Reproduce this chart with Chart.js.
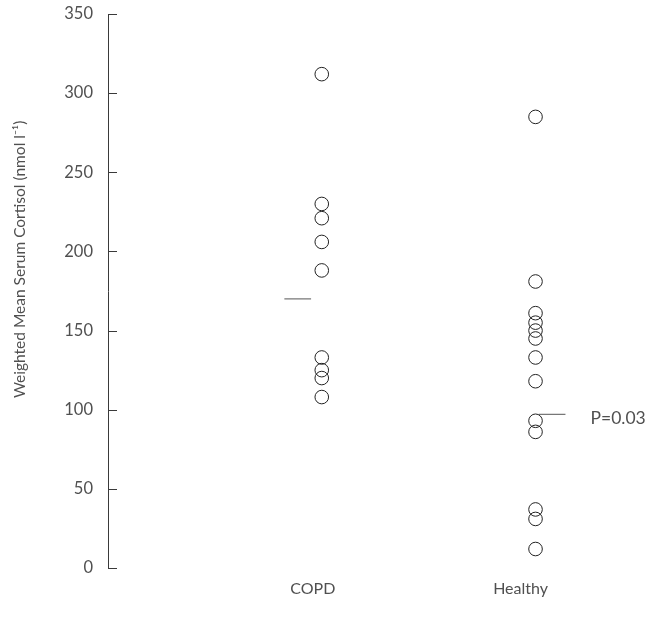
<!DOCTYPE html>
<html>
<head>
<meta charset="utf-8">
<script src="https://cdn.jsdelivr.net/npm/chart.js@4/dist/chart.umd.min.js"></script>
<style>
  html, body { margin: 0; padding: 0; background: #fff; }
  #wrap { width: 647px; height: 627px; }
</style>
</head>
<body>
<div id="wrap"><canvas id="c" width="647" height="627"></canvas></div>
<script>
// ---- data ----
const categories = ["COPD", "Healthy"];
const copdValues = [312, 230, 221, 206, 188, 133, 125, 120, 108];
const healthyValues = [285, 181, 161, 155, 150, 145, 133, 118, 93, 86, 37, 31, 12];
const groupMeans = [170, 97];
const yTicks = [0, 50, 100, 150, 200, 250, 300, 350];
const pValueText = "P=0.03";
const yTitle = "Weighted Mean Serum Cortisol (nmol l\u207B\u00B9)";

// ---- styles ----
const textColor = "#505050";
const axisColor = "#3a3a3a";
const fontFamily = "Lato, 'Open Sans', sans-serif";
const meanSpan = [[-0.175, -0.05], [0.015, 0.14]]; // offsets from category position
const labelShift = [-0.042, -0.07];                // x-label offsets from category position

const pointsData = [
  copdValues.map(v => ({ x: 1, y: v })),
  healthyValues.map(v => ({ x: 2, y: v }))
];

const meanDatasets = groupMeans.map((m, i) => ({
  type: 'line',
  data: [{ x: i + 1 + meanSpan[i][0], y: m }, { x: i + 1 + meanSpan[i][1], y: m }],
  borderColor: "#777",
  borderWidth: 1.3,
  pointRadius: 0,
  fill: false
}));

const overlay = {
  id: 'overlay',
  afterDraw(chart) {
    const ctx = chart.ctx, ys = chart.scales.y, xs = chart.scales.x;
    ctx.save();
    // inward y ticks
    ctx.strokeStyle = axisColor;
    ctx.lineWidth = 1;
    ys.ticks.forEach(t => {
      const py = Math.round(ys.getPixelForValue(t.value)) + 0.5;
      ctx.beginPath();
      ctx.moveTo(ys.right, py);
      ctx.lineTo(ys.right + 9, py);
      ctx.stroke();
    });
    // y title
    ctx.fillStyle = textColor;
    ctx.font = "15.5px " + fontFamily;
    ctx.textAlign = "center";
    ctx.textBaseline = "middle";
    ctx.save();
    ctx.translate(20, ys.getPixelForValue(195));
    ctx.rotate(-Math.PI / 2);
    ctx.fillText(yTitle, 0, 0);
    ctx.restore();
    // p value
    ctx.textAlign = "left";
    ctx.font = "17.5px " + fontFamily;
    ctx.fillText(pValueText, xs.getPixelForValue(2) + 55, ys.getPixelForValue(groupMeans[1]) + 4);
    ctx.restore();
  }
};

new Chart(document.getElementById('c'), {
  type: 'scatter',
  data: {
    datasets: [
      {
        data: pointsData[0],
        pointStyle: 'circle',
        pointRadius: 6.8,
        backgroundColor: 'rgba(0,0,0,0)',
        borderColor: '#222',
        borderWidth: 1
      },
      {
        data: pointsData[1],
        pointStyle: 'circle',
        pointRadius: 6.8,
        backgroundColor: 'rgba(0,0,0,0)',
        borderColor: '#222',
        borderWidth: 1
      },
      ...meanDatasets
    ]
  },
  options: {
    responsive: false,
    animation: false,
    layout: { padding: { top: 14, right: 4, bottom: 0, left: 0 } },
    plugins: { legend: { display: false }, tooltip: { enabled: false } },
    scales: {
      x: {
        type: 'linear',
        min: 0,
        max: 2.485,
        grid: { display: false, drawTicks: false },
        border: { display: false },
        afterBuildTicks: s => { s.ticks = categories.map((c, i) => ({ value: i + 1 + labelShift[i] })); },
        afterFit: s => { s.height = 59; s.paddingLeft = 0; s.paddingRight = 0; },
        ticks: {
          padding: 11,
          color: textColor,
          font: { family: fontFamily, size: 16 },
          callback: v => categories[Math.round(v) - 1]
        }
      },
      y: {
        min: 0,
        max: 350,
        grid: { display: false, drawTicks: false },
        border: { display: true, color: axisColor, width: 1 },
        afterBuildTicks: s => { s.ticks = yTicks.map(v => ({ value: v })); },
        afterFit: s => { s.width = 108; s.paddingTop = 0; s.paddingBottom = 0; },
        ticks: {
          padding: 15,
          color: textColor,
          font: { family: fontFamily, size: 16.5 }
        }
      }
    }
  },
  plugins: [overlay]
});
</script>
</body>
</html>
